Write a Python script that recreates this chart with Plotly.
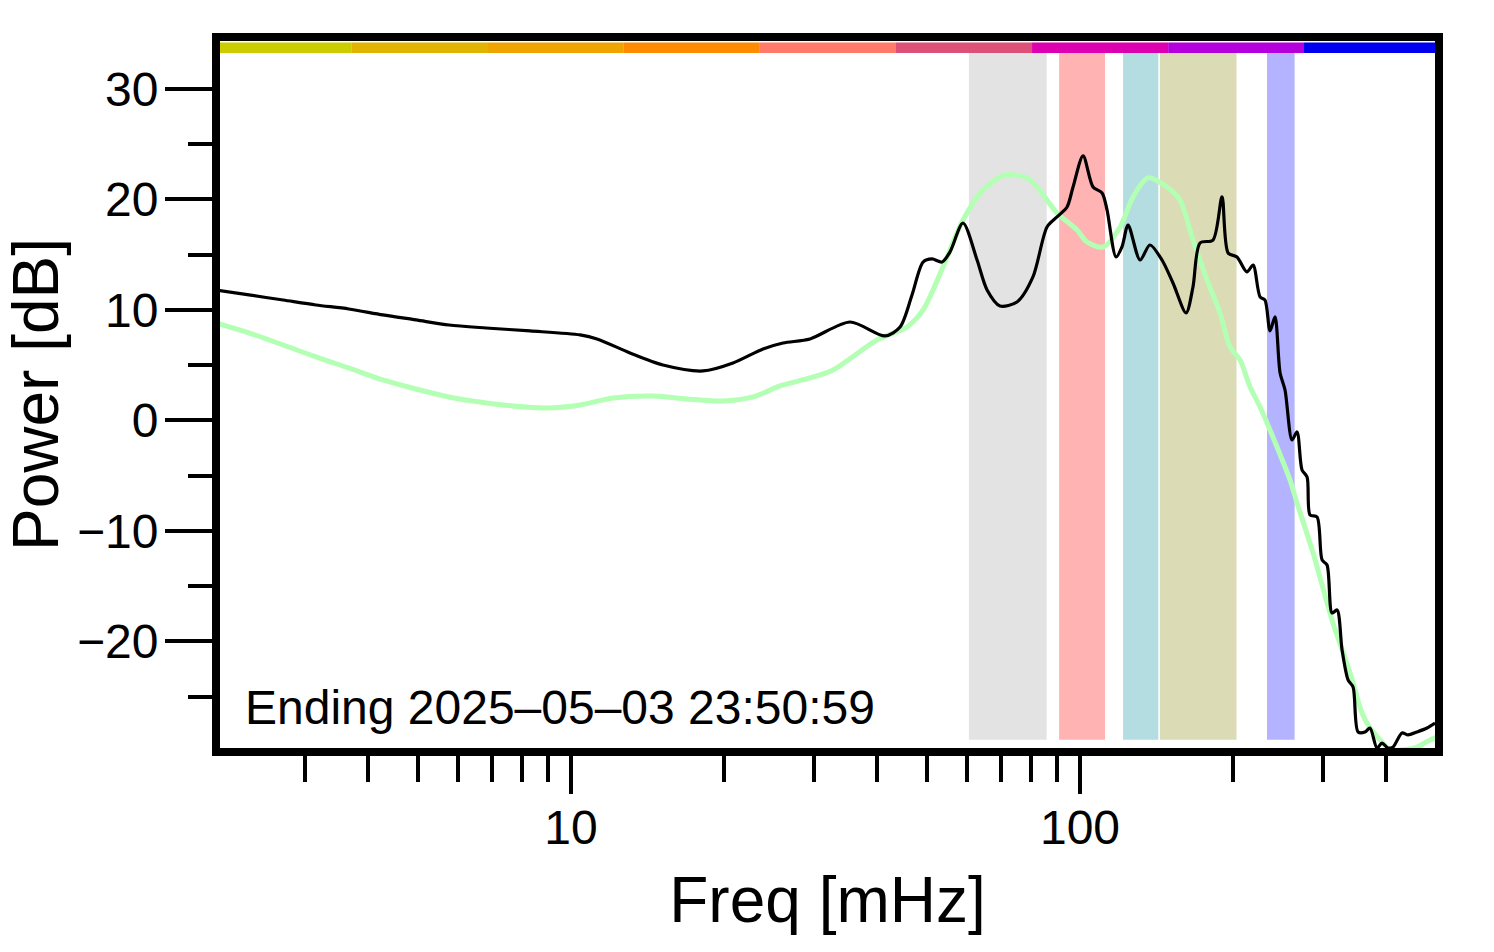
import math
import plotly.graph_objects as go

# ---- data ----
freq_black = [2.007, 2.33, 2.72, 3.155, 3.66, 4.27, 4.96, 5.76, 6.81, 8.31, 10.42, 11.25,
              13.06, 15.16, 18.17, 20.81, 23.84, 26.1, 29.48, 35.33, 41.39, 44.31, 46.77,
              49.17, 51.2, 53.57, 55.54, 58.9, 62.77, 65.68, 69.65, 75.19, 80.83, 86.14,
              90.12, 94.3, 96.9, 101.4, 106.05, 110.5, 113.0, 117.7, 120.9, 124.3, 131.2,
              137.2, 144.9, 152.3, 161.6, 166.7, 172.1, 182.5, 190.1, 195.4, 203.4, 212.8,
              218.8, 225.8, 230.9, 236.2, 241.6, 247.2, 252.8, 260.9, 266.9, 273.0, 279.3,
              283.1, 292.2, 298.9, 305.7, 312.7, 319.9, 327.2, 336.2, 343.9, 351.8, 363.1,
              371.3, 383.2, 392.0, 402.8, 412.0, 429.1, 441.0, 459.3, 480.5, 498.2]
power_black = [11.81, 11.36, 10.90, 10.45, 10.09, 9.55, 9.10, 8.64, 8.37, 8.10, 7.74, 7.38,
               6.11, 5.02, 4.48, 5.20, 6.47, 7.01, 7.38, 8.91, 7.65, 8.46, 11.36,
               14.34, 14.62, 14.34, 15.25, 17.87, 14.52, 11.81, 10.36, 10.72, 12.99, 17.51,
               18.42, 19.32, 21.13, 23.94, 21.13, 20.59, 19.05, 14.80, 15.70, 17.69, 14.52,
               15.88, 14.52, 12.44, 9.73, 12.08, 16.06, 16.33, 20.23, 15.16, 14.80, 13.44,
               14.07, 11.18, 10.90, 8.10, 9.37, 4.30, 2.76, -1.76, -1.04, -4.48, -5.11,
               -8.55, -8.73, -12.62, -13.08, -17.42, -17.15, -20.77, -23.48, -24.12, -28.19, -28.19,
               -27.83, -29.64, -29.19, -29.64, -29.55, -28.28, -28.46, -28.19, -27.83, -27.38]

freq_green = [2.007, 2.33, 2.72, 3.155, 3.66, 4.27, 4.96, 5.76, 6.62, 7.69, 8.97, 10.42,
              12.09, 14.49, 16.9, 19.89, 22.78, 25.74, 29.48, 32.72, 39.93, 45.73, 49.17,
              53.8, 58.9, 64.5, 71.25, 78.7, 82.35, 90.12, 98.65, 103.2, 111.0, 119.9,
              127.1, 136.0, 148.2, 157.2, 166.7, 177.7, 188.4, 197.1, 206.2, 215.8, 225.8,
              243.8, 258.5, 266.9, 287.0, 312.7, 339.3, 358.1, 371.3, 392.0, 406.4, 425.3,
              459.3, 487.2, 505.0]
power_green = [8.82, 7.92, 6.83, 5.75, 4.75, 3.67, 2.85, 2.13, 1.67, 1.31, 1.13, 1.40,
               2.04, 2.22, 1.95, 1.76, 2.13, 3.12, 3.85, 4.57, 7.29, 8.46, 10.0,
               13.89, 18.14, 20.86, 22.22, 21.95, 21.13, 18.78, 17.24, 16.15, 15.70, 17.51,
               20.23, 21.95, 21.13, 19.95, 16.33, 12.71, 9.73, 6.65, 5.48, 3.03, 1.22,
               -2.40, -5.38, -7.47, -11.99, -18.05, -22.85, -26.47, -27.83, -29.10, -29.82, -29.82,
               -29.55, -28.91, -28.64]

band_lo = [60.5, 91.0, 121.5, 143.5, 233.0]
band_hi = [86.0, 112.0, 142.5, 203.0, 264.0]
band_colors = ["#e3e3e3", "#ffb3b3", "#b3dde0", "#dbdbb5", "#b3b3ff"]
band_bottom, band_top = -28.9, 33.25

bar_edges = [2.0, 3.71, 6.87, 12.7, 23.5, 43.5, 80.5, 149.0, 275.5, 507.0]
bar_colors = ["#cccc00", "#e0b400", "#f0a400", "#ff8c00", "#ff7a68",
              "#dd5078", "#dd00b0", "#b400dd", "#0000f0"]
bar_bottom, bar_top = 33.25, 34.2

x_major_ticks = [10, 100]
x_major_text = ["10", "100"]
x_minor_ticks = [2, 3, 4, 5, 6, 7, 8, 9, 20, 30, 40, 50, 60, 70, 80, 90, 200, 300, 400, 500]

annotation_text = "Ending 2025\u201305\u201303 23:50:59"

FONT = "Liberation Sans, Arial, Helvetica, sans-serif"

fig = go.Figure()

# shaded frequency bands
for lo, hi, col in zip(band_lo, band_hi, band_colors):
    fig.add_trace(go.Scatter(
        x=[lo, hi, hi, lo, lo], y=[band_bottom, band_bottom, band_top, band_top, band_bottom],
        mode="lines", fill="toself", fillcolor=col, line=dict(width=0, color=col),
        hoverinfo="skip", showlegend=False))

# top colour bar
for i, col in enumerate(bar_colors):
    lo, hi = bar_edges[i], bar_edges[i + 1]
    fig.add_trace(go.Scatter(
        x=[lo, hi, hi, lo, lo], y=[bar_bottom, bar_bottom, bar_top, bar_top, bar_bottom],
        mode="lines", fill="toself", fillcolor=col, line=dict(width=0, color=col),
        hoverinfo="skip", showlegend=False))

fig.add_trace(go.Scatter(x=freq_green, y=power_green, mode="lines",
                         line=dict(color="#b3ffb3", width=5, shape="spline", smoothing=0.8),
                         showlegend=False))
fig.add_trace(go.Scatter(x=freq_black, y=power_black, mode="lines",
                         line=dict(color="black", width=3.2, shape="spline", smoothing=0.8),
                         showlegend=False))

fig.add_annotation(text=annotation_text, xref="paper", yref="y", x=0.019, y=-26.0,
                   xanchor="left", yanchor="middle", showarrow=False,
                   font=dict(size=48, color="black", family=FONT))

fig.update_layout(
    width=1494, height=952,
    margin=dict(l=220, r=59, t=41, b=204),
    plot_bgcolor="white", paper_bgcolor="white",
    font=dict(family=FONT, color="black"),
    showlegend=False,
)

fig.update_xaxes(
    type="log", range=[math.log10(2.044), math.log10(498.2)],
    automargin=False,
    showline=True, linewidth=8, linecolor="black", mirror=True,
    showgrid=False, zeroline=False,
    ticks="outside", ticklen=38, tickwidth=4, tickcolor="black",
    tickmode="array", tickvals=x_major_ticks, ticktext=x_major_text,
    tickfont=dict(size=48, color="black"), ticklabelstandoff=-8,
    minor=dict(ticks="outside", ticklen=26, tickwidth=4, tickcolor="black",
               tickmode="array", tickvals=x_minor_ticks, showgrid=False),
    title=dict(text="Freq [mHz]", font=dict(size=64, color="black"), standoff=28),
)

fig.update_yaxes(
    range=[-29.64, 34.34],
    automargin=False,
    showline=True, linewidth=8, linecolor="black", mirror=True,
    showgrid=False, zeroline=False,
    ticks="outside", ticklen=47, tickwidth=4, tickcolor="black",
    tickmode="linear", tick0=0, dtick=10,
    tickfont=dict(size=48, color="black"), ticklabelstandoff=-3,
    minor=dict(ticks="outside", ticklen=24, tickwidth=4, tickcolor="black",
               tickmode="linear", tick0=-30, dtick=5, showgrid=False),
    title=dict(text="Power [dB]", font=dict(size=64, color="black"), standoff=38),
)

# remove the default 8px page margin so the figure fills the window exactly
fig.write_html("out.html", config={"displayModeBar": False},
               post_script="document.body.style.margin='0px';")
